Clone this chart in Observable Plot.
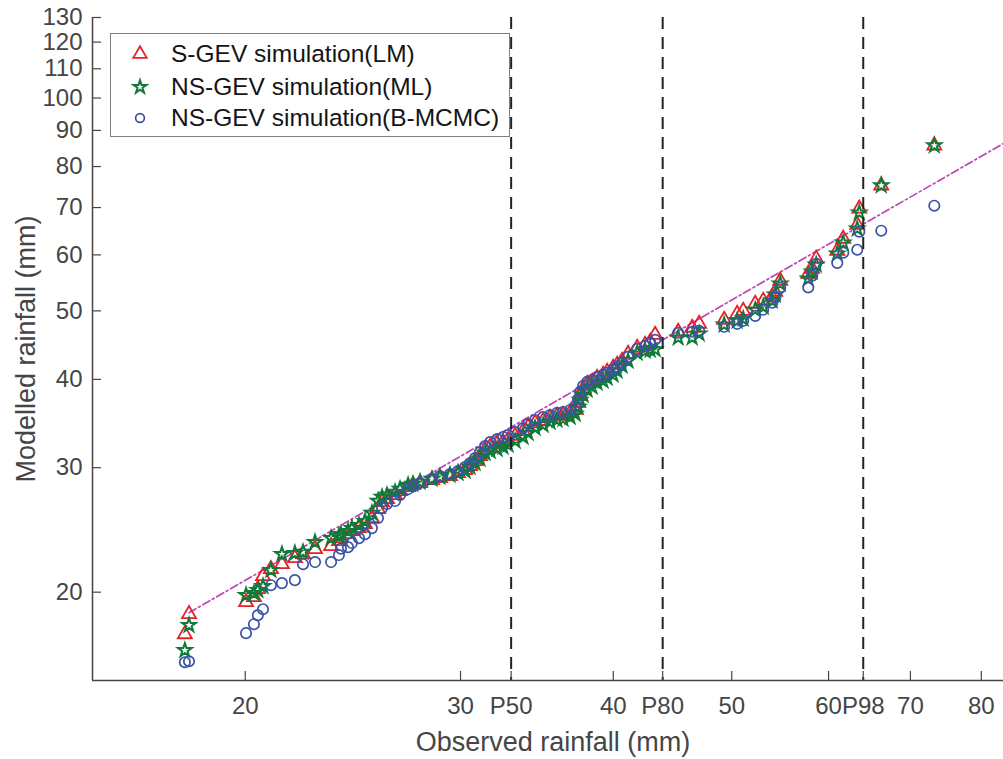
<!DOCTYPE html>
<html>
<head>
<meta charset="utf-8">
<script src="https://cdn.jsdelivr.net/npm/d3@7"></script>
<script src="https://cdn.jsdelivr.net/npm/@observablehq/plot@0.6"></script>
<style>
html, body { margin: 0; padding: 0; background: #fff; overflow: hidden; }
#wrap { position: relative; width: 1003px; height: 759px; overflow: hidden; }
#chart svg { max-width: none !important; }
#legendBox { position: absolute; left: 110px; top: 33px; width: 400px; height: 104px; box-sizing: border-box; border: 1.5px solid #808080; background: #fff; }
.lgText { position: absolute; font-family: "Liberation Sans", Arial, sans-serif; font-size: 24.5px; line-height: 30px; color: #151515; white-space: nowrap; }
.lgMark { position: absolute; }
</style>
</head>
<body>
<div id="wrap"><div id="chart"></div></div>
<script>
// Observed rainfall (mm), sorted
const observed = [17.85, 17.99,
  20.03, 20.33, 20.48, 20.68, 20.99, 21.43, 21.96, 22.30, 22.81, 23.51,
  23.86, 23.95, 24.27, 24.45, 24.78, 25.06, 25.39, 25.68, 25.88, 26.12,
  26.52, 26.77, 27.18, 27.43, 27.80, 28.43, 28.86, 29.41, 29.86, 30.26,
  30.54, 30.83, 31.12, 31.42, 31.72, 32.14, 32.50, 32.81, 33.25, 33.75,
  34.07, 34.52, 35.05, 35.51, 35.98, 36.39, 36.88, 37.23, 37.44, 37.58,
  37.79, 38.08, 38.44, 38.80, 39.24, 39.54, 39.99, 40.29, 40.67, 41.13,
  41.84, 42.47, 42.88, 43.28,
  45.20, 46.41, 47.02, 49.29, 50.51, 51.09, 52.26, 53.05, 53.96, 54.26,
  54.78, 57.75, 58.18, 58.62, 60.99, 61.68, 63.33, 63.57, 66.26, 73.22];

// S-GEV simulation (LM)
const lmSim = [17.44, 18.62,
  19.36, 19.68, 20.20, 21.07, 21.56, 21.91, 22.35, 22.64, 23.01, 23.24,
  23.62, 23.85, 24.16, 24.40, 24.64, 24.96, 25.46, 26.22, 26.82, 27.09,
  27.44, 27.80, 28.17, 28.35, 28.54, 28.82, 29.01, 29.20, 29.48, 29.77,
  30.17, 30.66, 31.17, 31.78, 32.10, 32.41, 32.62, 32.83, 33.27, 33.81,
  34.25, 34.70, 34.93, 35.28, 35.51, 35.62, 35.86, 36.21, 37.05, 37.90,
  38.78, 39.41, 39.67, 40.19, 40.59, 40.99, 41.53, 41.93, 42.49, 43.47,
  44.32, 44.76, 45.20, 46.25,
  46.70, 47.31, 47.93, 48.56, 49.52, 50.01, 51.16, 51.67, 52.35, 53.21,
  55.15, 56.43, 57.35, 59.25, 60.82, 63.25, 66.20, 69.75, 75.22, 85.68];

// NS-GEV simulation (ML)
const mlSim = [16.55, 17.96,
  19.81, 19.93, 20.13, 20.39, 21.49, 22.64, 22.71, 22.79, 23.54, 23.85,
  24.01, 24.16, 24.40, 24.64, 24.88, 25.21, 25.88, 26.91, 27.26, 27.44,
  27.71, 27.98, 28.35, 28.44, 28.63, 28.91, 29.10, 29.29, 29.48, 29.68,
  30.07, 30.46, 30.86, 31.47, 31.68, 31.88, 32.10, 32.31, 32.73, 33.16,
  33.59, 34.14, 34.48, 34.82, 35.05, 35.16, 35.39, 35.74, 36.56, 37.41,
  38.02, 38.65, 39.03, 39.54, 39.80, 40.19, 40.59, 41.12, 41.80, 42.49,
  43.61, 43.89, 44.04, 44.10,
  45.80, 45.82, 46.40, 47.78, 48.40, 48.72, 50.17, 50.66, 51.67, 52.69,
  54.61, 55.51, 56.80, 58.11, 60.23, 62.43, 65.34, 68.85, 75.22, 85.68];

// NS-GEV simulation (B-MCMC)
const mcmcSim = [15.92, 15.97,
  17.50, 18.02, 18.55, 18.92, 20.46, 20.60, 20.80, 21.91, 22.06, 22.06,
  22.57, 23.05, 23.16, 23.47, 23.85, 24.16, 24.64, 25.46, 26.30, 26.65,
  26.91, 27.44, 27.98, 28.26, 28.54, 28.91, 29.20, 29.39, 29.68, 30.07,
  30.46, 30.96, 31.57, 32.20, 32.62, 32.94, 33.16, 33.37, 33.70, 34.14,
  34.59, 35.05, 35.39, 35.62, 35.86, 35.97, 36.21, 36.68, 37.53, 38.40,
  39.15, 39.67, 39.93, 40.32, 40.59, 40.85, 41.26, 41.66, 42.21, 43.04,
  44.18, 44.61, 45.05, 45.50,
  46.55, 46.70, 46.85, 47.47, 47.93, 48.40, 49.19, 50.17, 51.33, 52.18,
  53.91, 53.95, 56.06, 58.30, 58.45, 60.43, 61.02, 64.71, 64.92, 70.43];

// Percentile thresholds of observed rainfall
const percentileValues = [33.0, 43.9, 64.05];
const percentileLabels = ["P50", "P80", "P98"];

// Axis ticks
const xTickValues = [20, 30, 40, 50, 60, 70, 80];
const yTickValues = [20, 30, 40, 50, 60, 70, 80, 90, 100, 110, 120, 130];

// Reference (fitted) line endpoints
const refLineX = [17.99, 85];
const refLineY = [18.7, 87.9];

const seriesNames = ["S-GEV simulation(LM)", "NS-GEV simulation(ML)", "NS-GEV simulation(B-MCMC)"];
const xLabel = "Observed rainfall (mm)";
const yLabel = "Modelled rainfall (mm)";

// ---- build tables ----
const points = observed.map((o, i) => ({obs: o, lm: lmSim[i], ml: mlSim[i], mcmc: mcmcSim[i]}));
const refData = refLineX.map((x, i) => ({x, y: refLineY[i]}));
const xTickAll = [...xTickValues, ...percentileValues].sort((a, b) => a - b);
const xLabelMap = new Map(xTickValues.map(v => [v, String(v)]));
percentileValues.forEach((v, i) => xLabelMap.set(v, percentileLabels[i]));

const W = 1013, H = 759, mL = 92, mR = 0, mT = 17, mB = 79;
const FONT = '"Liberation Sans", Arial, sans-serif';
const AX = "#454545";
const RED = "#e62129", GREEN = "#107a3a", BLUE = "#3a52a8";
const sym = {
  lm: {symbol: "triangle", r: 5.2, stroke: RED, strokeWidth: 1.8},
  ml: {symbol: "star", r: 4.3, stroke: GREEN, strokeWidth: 2},
  mcmc: {symbol: "circle", r: 5.2, stroke: BLUE, strokeWidth: 1.7}
};

const chart = Plot.plot({
  width: W, height: H,
  marginLeft: mL, marginRight: mR, marginTop: mT, marginBottom: mB,
  style: {fontFamily: FONT, background: "white", overflow: "visible", maxWidth: "none"},
  x: {type: "log", domain: [15, 85], label: null},
  y: {type: "log", domain: [15, 130], label: null},
  marks: [
    Plot.line(refData, {x: "x", y: "y", stroke: "#bf45b5", strokeWidth: 1.7, strokeDasharray: "8,3,2,3"}),
    Plot.dot(points, {x: "obs", y: "lm", fill: "none", ...sym.lm}),
    Plot.dot(points, {x: "obs", y: "ml", fill: "none", ...sym.ml}),
    Plot.dot(points, {x: "obs", y: "mcmc", fill: "none", ...sym.mcmc}),
    Plot.ruleX(percentileValues, {stroke: "#222", strokeWidth: 2, strokeDasharray: "12,8"}),
    Plot.ruleX([15], {stroke: AX, strokeWidth: 1.5}),
    Plot.ruleY([15], {stroke: AX, strokeWidth: 1.5}),
    Plot.tickY(yTickValues, {y: d => d, stroke: AX, strokeWidth: 1.2, insetRight: (W - mL - mR) - 9}),
    Plot.tickX(xTickAll, {x: d => d, stroke: AX, strokeWidth: 1.2, insetTop: (H - mT - mB) - 9}),
    Plot.axisY(yTickValues, {tickSize: 0, tickPadding: 10, fontSize: 24, color: AX, tickFormat: d => String(d), label: null}),
    Plot.axisX(xTickAll, {tickSize: 0, tickPadding: 16, fontSize: 24, color: AX, tickFormat: d => xLabelMap.get(d), label: null}),
    Plot.text([xLabel], {text: d => d, frameAnchor: "bottom", textAnchor: "middle", lineAnchor: "top", dy: 51, fontSize: 27, fill: AX}),
    Plot.text([yLabel], {text: d => d, frameAnchor: "left", textAnchor: "middle", rotate: -90, dx: -66, fontSize: 27, fill: AX})
  ]
});
chart.style.maxWidth = "none";
document.getElementById("chart").appendChild(chart);

// ---- legend ----
const wrap = document.getElementById("wrap");
const box = document.createElement("div");
box.id = "legendBox";
wrap.appendChild(box);
const rowsY = [54, 87, 118];
const keys = ["lm", "ml", "mcmc"];
const legendR = {lm: 5.0, ml: 4.1, mcmc: 4.4};
const d3sym = {triangle: d3.symbolTriangle, star: d3.symbolStar, circle: d3.symbolCircle};
keys.forEach((k, i) => {
  const s = sym[k];
  const r = legendR[k];
  const svg = d3.create("svg").attr("width", 30).attr("height", 30).attr("class", "lgMark")
    .style("left", (140 - 15) + "px").style("top", (rowsY[i] - 15) + "px");
  svg.append("path")
    .attr("transform", "translate(15,15)")
    .attr("d", d3.symbol(d3sym[s.symbol], r * r * Math.PI)())
    .attr("fill", "none").attr("stroke", s.stroke).attr("stroke-width", s.strokeWidth);
  wrap.appendChild(svg.node());
  const t = document.createElement("div");
  t.className = "lgText";
  t.style.left = "171px";
  t.style.top = (rowsY[i] - 15) + "px";
  t.textContent = seriesNames[i];
  wrap.appendChild(t);
});
</script>
</body>
</html>
